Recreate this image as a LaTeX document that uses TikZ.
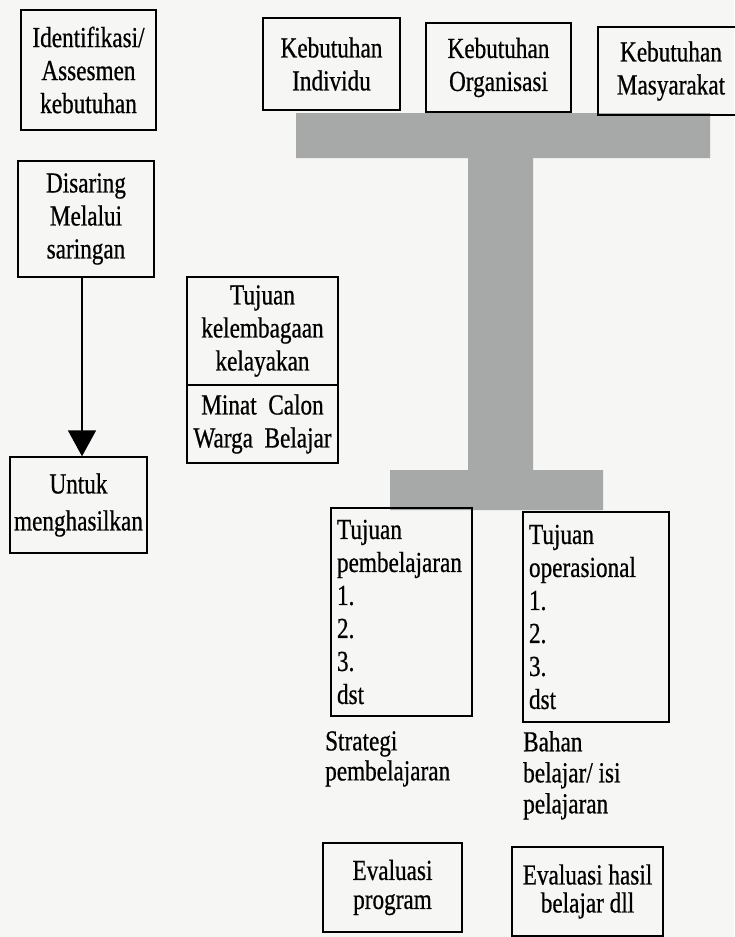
\documentclass[tikz,border=0pt]{standalone}
\usepackage{fontspec}
\newfontfamily\gar[FakeStretch=0.8,FakeBold=0.6]{Liberation Serif}
\usetikzlibrary{arrows.meta}
\definecolor{beam}{RGB}{166,169,167}
\definecolor{paper}{RGB}{246,246,244}
\tikzset{
  gtext/.style={font=\gar\fontsize{29}{33}\selectfont},
  box/.style={gtext, draw=black, line width=1.4pt, inner sep=0pt, align=center},
  lbox/.style={gtext, draw=black, line width=1.4pt, inner xsep=6pt, inner ysep=0pt, align=left},
  freetext/.style={gtext, inner sep=0pt, align=left, anchor=north west},
  arrowline/.style={line width=1.8pt, -{Triangle[width=28pt,length=26pt]}}
}
\begin{document}
\begin{tikzpicture}[x=1pt,y=-1pt]
\fill[paper] (0,0) rectangle (734,937);
\useasboundingbox (0,0) rectangle (734,937);
% grey beam
\fill[beam] (296,113) -- (710,113) -- (710,158) -- (533,158) -- (533,470) -- (603,470)
  -- (603,510) -- (390,510) -- (390,470) -- (468,470) -- (468,158) -- (296,158) -- cycle;
% boxes
\node[box, minimum width=135pt, minimum height=120pt] (idf) at (88.5,70) {Identifikasi/\\Assesmen\\kebutuhan};
\node[box, minimum width=137pt, minimum height=92pt] (ind) at (331.5,64) {Kebutuhan\\Individu};
\node[box, minimum width=145pt, minimum height=89pt] (org) at (498.5,67.5) {Kebutuhan\\Organisasi};
\node[box, minimum width=146pt, minimum height=88pt] (mas) at (671,71) {Kebutuhan\\Masyarakat};
\node[box, minimum width=136pt, minimum height=116pt] (dis) at (86,219) {Disaring\\Melalui\\saringan};
\node[box, minimum width=151pt, minimum height=108pt] (tk) at (262.5,331) {Tujuan\\kelembagaan\\kelayakan};
\node[box, minimum width=151pt, minimum height=78pt] (mc) at (262.5,424) {Minat~~Calon\\Warga~~Belajar};
\node[box, font=\gar\fontsize{29}{37}\selectfont, minimum width=137pt, minimum height=96pt] (unt) at (78.5,505) {Untuk\\menghasilkan};
\node[lbox, text width=129pt, minimum height=208pt] (tp) at (401.5,612) {Tujuan\\pembelajaran\\1.\\2.\\3.\\dst};
\node[lbox, text width=134pt, minimum height=210pt] (to) at (596,617) {Tujuan\\operasional\\1.\\2.\\3.\\dst};
\node[freetext, font=\gar\fontsize{29}{30}\selectfont] (str) at (325,731) {Strategi\\pembelajaran};
\node[freetext, font=\gar\fontsize{29}{31}\selectfont] (bhn) at (523,731) {Bahan\\belajar/~isi\\pelajaran};
\node[box, font=\gar\fontsize{29}{29}\selectfont, minimum width=139pt, minimum height=89pt] (ep) at (392.5,887.5) {Evaluasi\\program};
\node[box, font=\gar\fontsize{29}{28}\selectfont, minimum width=151pt, minimum height=89pt] (eh) at (587.5,891.5) {Evaluasi~hasil\\belajar~dll};
% arrow
\coordinate (ax) at (82,0);
\draw[arrowline] (dis.south -| ax) -- (unt.north -| ax);
\end{tikzpicture}
\end{document}
